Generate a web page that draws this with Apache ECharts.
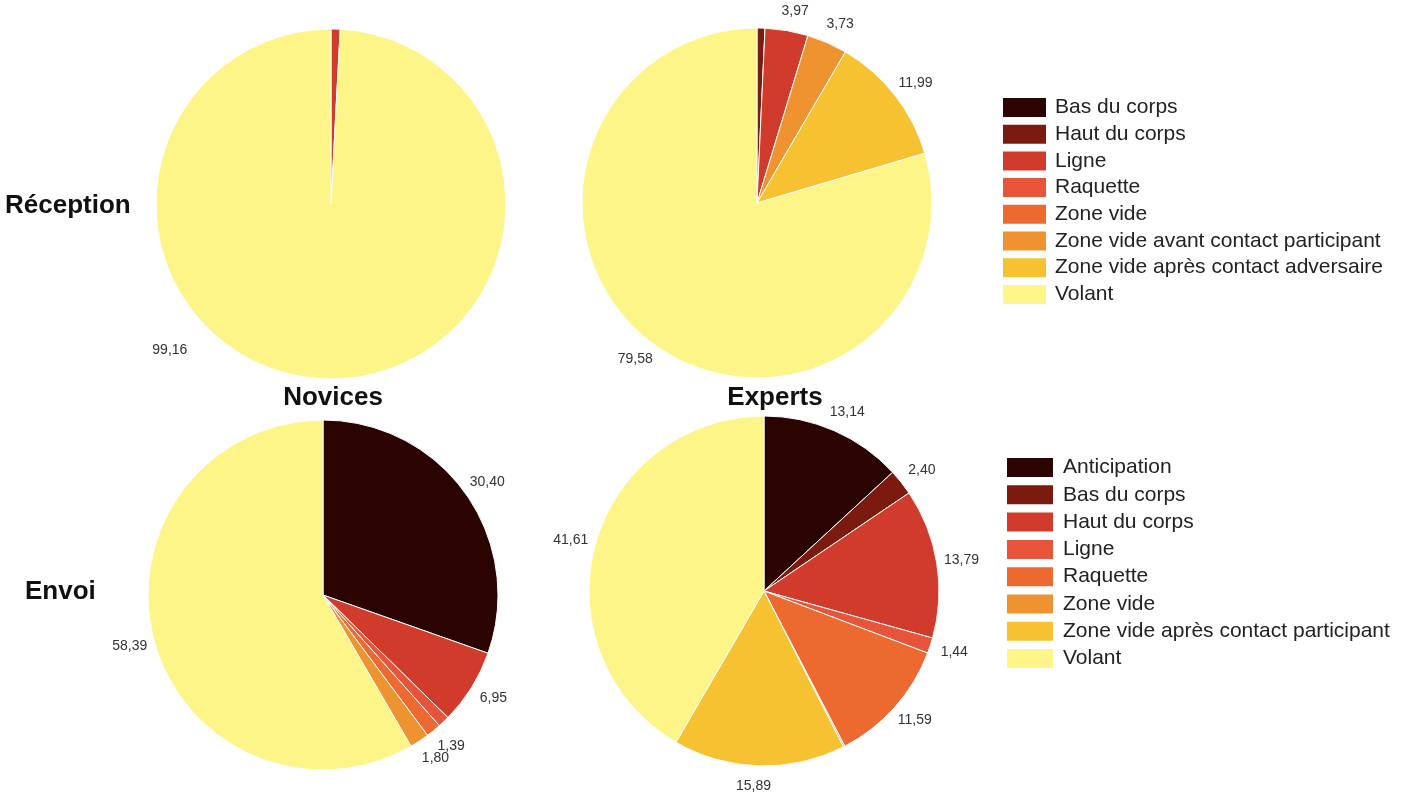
<!DOCTYPE html>
<html>
<head>
<meta charset="utf-8">
<script src="https://cdn.jsdelivr.net/npm/echarts@6/dist/echarts.min.js"></script>
<style>
html,body{margin:0;padding:0;background:#fff;}
#chart{width:1420px;height:802px;}
</style>
</head>
<body>
<div id="chart"></div>
<script>
// ---- Data ----
const receptionCategories = ['Bas du corps','Haut du corps','Ligne','Raquette','Zone vide','Zone vide avant contact participant','Zone vide après contact adversaire','Volant'];
const envoiCategories = ['Anticipation','Bas du corps','Haut du corps','Ligne','Raquette','Zone vide','Zone vide après contact participant','Volant'];
const novicesReception = [0, 0, 0.84, 0, 0, 0, 0, 99.16];
const expertsReception = [0, 0.73, 3.97, 0, 0, 3.73, 11.99, 79.58];
const novicesEnvoi = [30.40, 0, 6.95, 1.07, 1.39, 1.80, 0, 58.39];
const expertsEnvoi = [13.14, 2.40, 13.79, 1.44, 11.59, 0.14, 15.89, 41.61];
const rowLabels = ['Réception', 'Envoi'];
const colLabels = ['Novices', 'Experts'];

const palette = ['#2b0300','#7b1b10','#d13b2b','#e8543a','#ec6a30','#ef9331','#f6c232','#fdf587'];
const FONT = '"Liberation Sans", Arial, Helvetica, sans-serif';

function buildData(cats, vals) {
  const out = [];
  cats.forEach((c, i) => {
    if (vals[i] > 0) {
      out.push({
        name: c,
        value: vals[i],
        itemStyle: { color: palette[i] },
        label: { show: vals[i] >= 1.2 }
      });
    }
  });
  return out;
}

function pieSeries(id, center, cats, vals, labelShift) {
  return {
    type: 'pie',
    id: id,
    center: center,
    radius: [0, 175],
    startAngle: 90,
    clockwise: true,
    avoidLabelOverlap: false,
    silent: true,
    itemStyle: { borderColor: '#ffffff', borderWidth: 1 },
    label: {
      position: 'outside',
      color: '#333',
      fontSize: 14,
      fontFamily: FONT,
      formatter: p => p.value.toFixed(2).replace('.', ',')
    },
    labelLine: { show: false, length: 20, length2: 0 },
    labelLayout: Object.assign({ hideOverlap: false, align: 'center', verticalAlign: 'middle' }, labelShift || {}),
    emphasis: { disabled: true },
    data: buildData(cats, vals)
  };
}

function legendData(cats) {
  return cats.map((c, i) => ({ name: c, itemStyle: { color: palette[i] } }));
}

const chart = echarts.init(document.getElementById('chart'), null, { renderer: 'canvas' });
const titleStyle = { fontSize: 26, fontWeight: 'bold', color: '#111', fontFamily: FONT };
chart.setOption({
  backgroundColor: '#ffffff',
  animation: false,
  title: [
    { text: rowLabels[0], left: 5, top: 193, textStyle: titleStyle, padding: 0 },
    { text: rowLabels[1], left: 25, top: 579, textStyle: titleStyle, padding: 0 },
    { text: colLabels[0], left: 333, top: 385, textAlign: 'center', textStyle: titleStyle, padding: 0 },
    { text: colLabels[1], left: 775, top: 385, textAlign: 'center', textStyle: titleStyle, padding: 0 }
  ],
  legend: [
    {
      orient: 'vertical', left: 1001, top: 96, icon: 'rect', padding: 0,
      itemWidth: 45, itemHeight: 21, itemGap: 3.7, selectedMode: false,
      textStyle: { fontSize: 21, lineHeight: 21, color: '#222', fontFamily: FONT, padding: [0,0,0,3] },
      data: legendData(receptionCategories)
    },
    {
      orient: 'vertical', left: 1005, top: 456, icon: 'rect', padding: 0,
      itemWidth: 48, itemHeight: 21, itemGap: 4.3, selectedMode: false,
      textStyle: { fontSize: 21, lineHeight: 21, color: '#222', fontFamily: FONT, padding: [0,0,0,4] },
      data: legendData(envoiCategories)
    }
  ],
  series: [
    pieSeries('novRec', [331, 204], receptionCategories, novicesReception, { dx: -151, dy: -49 }),
    pieSeries('expRec', [757, 203], receptionCategories, expertsReception),
    pieSeries('novEnv', [323, 595], envoiCategories, novicesEnvoi),
    pieSeries('expEnv', [764, 591], envoiCategories, expertsEnvoi)
  ]
});
</script>
</body>
</html>
